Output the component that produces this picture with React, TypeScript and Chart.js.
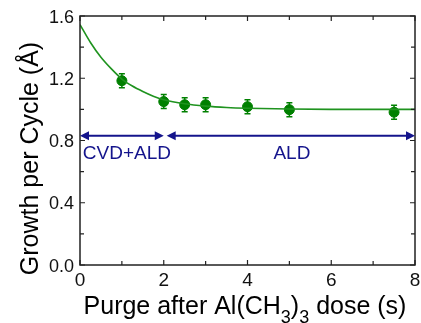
import React, { useEffect, useRef } from "react";
import { Chart, registerables } from "chart.js";

Chart.register(...registerables);

// Measured data
const purgeTimes = [1, 2, 2.5, 3, 4, 5, 7.5];
const growthValues = [1.184, 1.05, 1.03, 1.03, 1.017, 0.998, 0.982];
const growthErrors = [0.045, 0.045, 0.045, 0.045, 0.045, 0.045, 0.045];

// Fit curve
const fitX = [0, 0.25, 0.5, 0.75, 1, 1.25, 1.5, 1.75, 2, 2.5, 3, 3.5, 4, 5, 6, 7, 8];
const fitY = [1.545, 1.43, 1.335, 1.26, 1.195, 1.15, 1.115, 1.085, 1.062, 1.036, 1.021, 1.012, 1.007, 1.002, 1.0, 1.0, 1.0];

// Axis ticks
const xMajorTicks = [0, 2, 4, 6, 8];
const xMinorTicks = [1, 3, 5, 7];
const xTickLabels = ["0", "2", "4", "6", "8"];
const yMajorTicks = [0, 0.4, 0.8, 1.2, 1.6];
const yMinorTicks = [0.2, 0.6, 1.0, 1.4];
const yTickLabels = ["0.0", "0.4", "0.8", "1.2", "1.6"];

// Regime arrows and labels
const arrowLevel = 0.83;
const arrowStarts = [0, 2.07];
const arrowEnds = [2.0, 8];
const regimeLabels = ["CVD+ALD", "ALD"];
const regimeLabelX = [1.12, 5.06];

const FONT = "'Liberation Sans', Arial, Helvetica, sans-serif";
const GREEN = "#008000";
const LINE_GREEN = "#1f931f";
const NAVY = "#14148c";

const decorPlugin = {
  id: "decor",
  beforeDatasetsDraw(chart: any) {
    const ctx = chart.ctx;
    const xs = chart.scales.x;
    const ys = chart.scales.y;
    // error bars
    ctx.save();
    ctx.strokeStyle = GREEN;
    ctx.lineWidth = 1.5;
    purgeTimes.forEach((t, i) => {
      const px = xs.getPixelForValue(t);
      const top = ys.getPixelForValue(growthValues[i] + growthErrors[i]);
      const bot = ys.getPixelForValue(growthValues[i] - growthErrors[i]);
      ctx.beginPath();
      ctx.moveTo(px, top);
      ctx.lineTo(px, bot);
      ctx.moveTo(px - 3, top);
      ctx.lineTo(px + 3, top);
      ctx.moveTo(px - 3, bot);
      ctx.lineTo(px + 3, bot);
      ctx.stroke();
    });
    ctx.restore();
  },
  afterDraw(chart: any) {
    const ctx = chart.ctx;
    const xs = chart.scales.x;
    const ys = chart.scales.y;
    const { left, right, top, bottom } = chart.chartArea;
    ctx.save();

    // frame
    ctx.strokeStyle = "#222";
    ctx.lineWidth = 1.5;
    ctx.strokeRect(left, top, right - left, bottom - top);

    // ticks (inward, all four sides)
    ctx.lineWidth = 1.2;
    const xTick = (v: number, len: number) => {
      const px = xs.getPixelForValue(v);
      ctx.beginPath();
      ctx.moveTo(px, bottom);
      ctx.lineTo(px, bottom - len);
      ctx.moveTo(px, top);
      ctx.lineTo(px, top + len);
      ctx.stroke();
    };
    const yTick = (v: number, len: number) => {
      const py = ys.getPixelForValue(v);
      ctx.beginPath();
      ctx.moveTo(left, py);
      ctx.lineTo(left + len, py);
      ctx.moveTo(right, py);
      ctx.lineTo(right - len, py);
      ctx.stroke();
    };
    xMajorTicks.forEach((v) => xTick(v, 5));
    xMinorTicks.forEach((v) => xTick(v, 4));
    yMajorTicks.forEach((v) => yTick(v, 5));
    yMinorTicks.forEach((v) => yTick(v, 4));

    // tick labels
    ctx.fillStyle = "#111";
    ctx.font = `19px ${FONT}`;
    ctx.textAlign = "center";
    ctx.textBaseline = "alphabetic";
    xMajorTicks.forEach((v, i) => {
      ctx.fillText(xTickLabels[i], xs.getPixelForValue(v), bottom + 21);
    });
    ctx.font = `18px ${FONT}`;
    ctx.textAlign = "right";
    yMajorTicks.forEach((v, i) => {
      ctx.fillText(yTickLabels[i], left - 6, ys.getPixelForValue(v) + 6.5);
    });

    // y title
    ctx.save();
    ctx.translate(38, (top + bottom) / 2 + 18);
    ctx.rotate(-Math.PI / 2);
    ctx.font = `25px ${FONT}`;
    ctx.textAlign = "center";
    ctx.fillStyle = "#000";
    ctx.fillText("Growth per Cycle (Å)", 0, 0);
    ctx.restore();

    // x title with subscripts
    const main = `25px ${FONT}`;
    const sub = `18px ${FONT}`;
    const parts: [string, boolean][] = [
      ["Purge after Al(CH", false],
      ["3", true],
      [")", false],
      ["3", true],
      [" dose (s)", false],
    ];
    let total = 0;
    parts.forEach(([s, isSub]) => {
      ctx.font = isSub ? sub : main;
      total += ctx.measureText(s).width;
    });
    let cx = 245 - total / 2;
    ctx.textAlign = "left";
    ctx.fillStyle = "#000";
    parts.forEach(([s, isSub]) => {
      ctx.font = isSub ? sub : main;
      ctx.fillText(s, cx, isSub ? 323 : 314);
      cx += ctx.measureText(s).width;
    });

    // arrows
    ctx.strokeStyle = NAVY;
    ctx.fillStyle = NAVY;
    ctx.lineWidth = 2;
    const ay = ys.getPixelForValue(arrowLevel);
    const head = (tipX: number, dir: number) => {
      ctx.beginPath();
      ctx.moveTo(tipX, ay);
      ctx.lineTo(tipX - dir * 9, ay - 4.5);
      ctx.lineTo(tipX - dir * 9, ay + 4.5);
      ctx.closePath();
      ctx.fill();
    };
    arrowStarts.forEach((s, i) => {
      const x0 = xs.getPixelForValue(s);
      const x1 = xs.getPixelForValue(arrowEnds[i]);
      ctx.beginPath();
      ctx.moveTo(x0 + 4, ay);
      ctx.lineTo(x1 - 4, ay);
      ctx.stroke();
      head(x0, -1);
      head(x1, 1);
    });

    // regime labels
    ctx.font = `19px ${FONT}`;
    ctx.textAlign = "center";
    ctx.textBaseline = "alphabetic";
    regimeLabels.forEach((txt, i) => {
      ctx.fillText(txt, xs.getPixelForValue(regimeLabelX[i]), ay + 23);
    });

    ctx.restore();
  },
};

export default function App() {
  const ref = useRef<HTMLCanvasElement | null>(null);
  useEffect(() => {
    if (!ref.current) return;
    const chart = new Chart(ref.current, {
      type: "scatter",
      data: {
        datasets: [
          {
            type: "line",
            data: fitX.map((x, i) => ({ x, y: fitY[i] })),
            borderColor: LINE_GREEN,
            borderWidth: 1.6,
            pointRadius: 0,
            cubicInterpolationMode: "monotone",
            fill: false,
          } as any,
          {
            type: "scatter",
            data: purgeTimes.map((x, i) => ({ x, y: growthValues[i] })),
            backgroundColor: GREEN,
            borderColor: GREEN,
            pointRadius: 5,
          },
        ],
      },
      options: {
        responsive: false,
        animation: false,
        devicePixelRatio: 1,
        layout: { padding: { left: 80, right: 6, top: 16, bottom: 58 } },
        plugins: { legend: { display: false }, tooltip: { enabled: false } },
        scales: {
          x: { type: "linear", min: 0, max: 8, display: false },
          y: { type: "linear", min: 0, max: 1.6, display: false },
        },
      },
      plugins: [decorPlugin],
    });
    return () => chart.destroy();
  }, []);
  return (
    <div style={{ position: "absolute", left: 0, top: 0, width: 421, height: 323, background: "#fff" }}>
      <canvas ref={ref} width={421} height={323} />
    </div>
  );
}
